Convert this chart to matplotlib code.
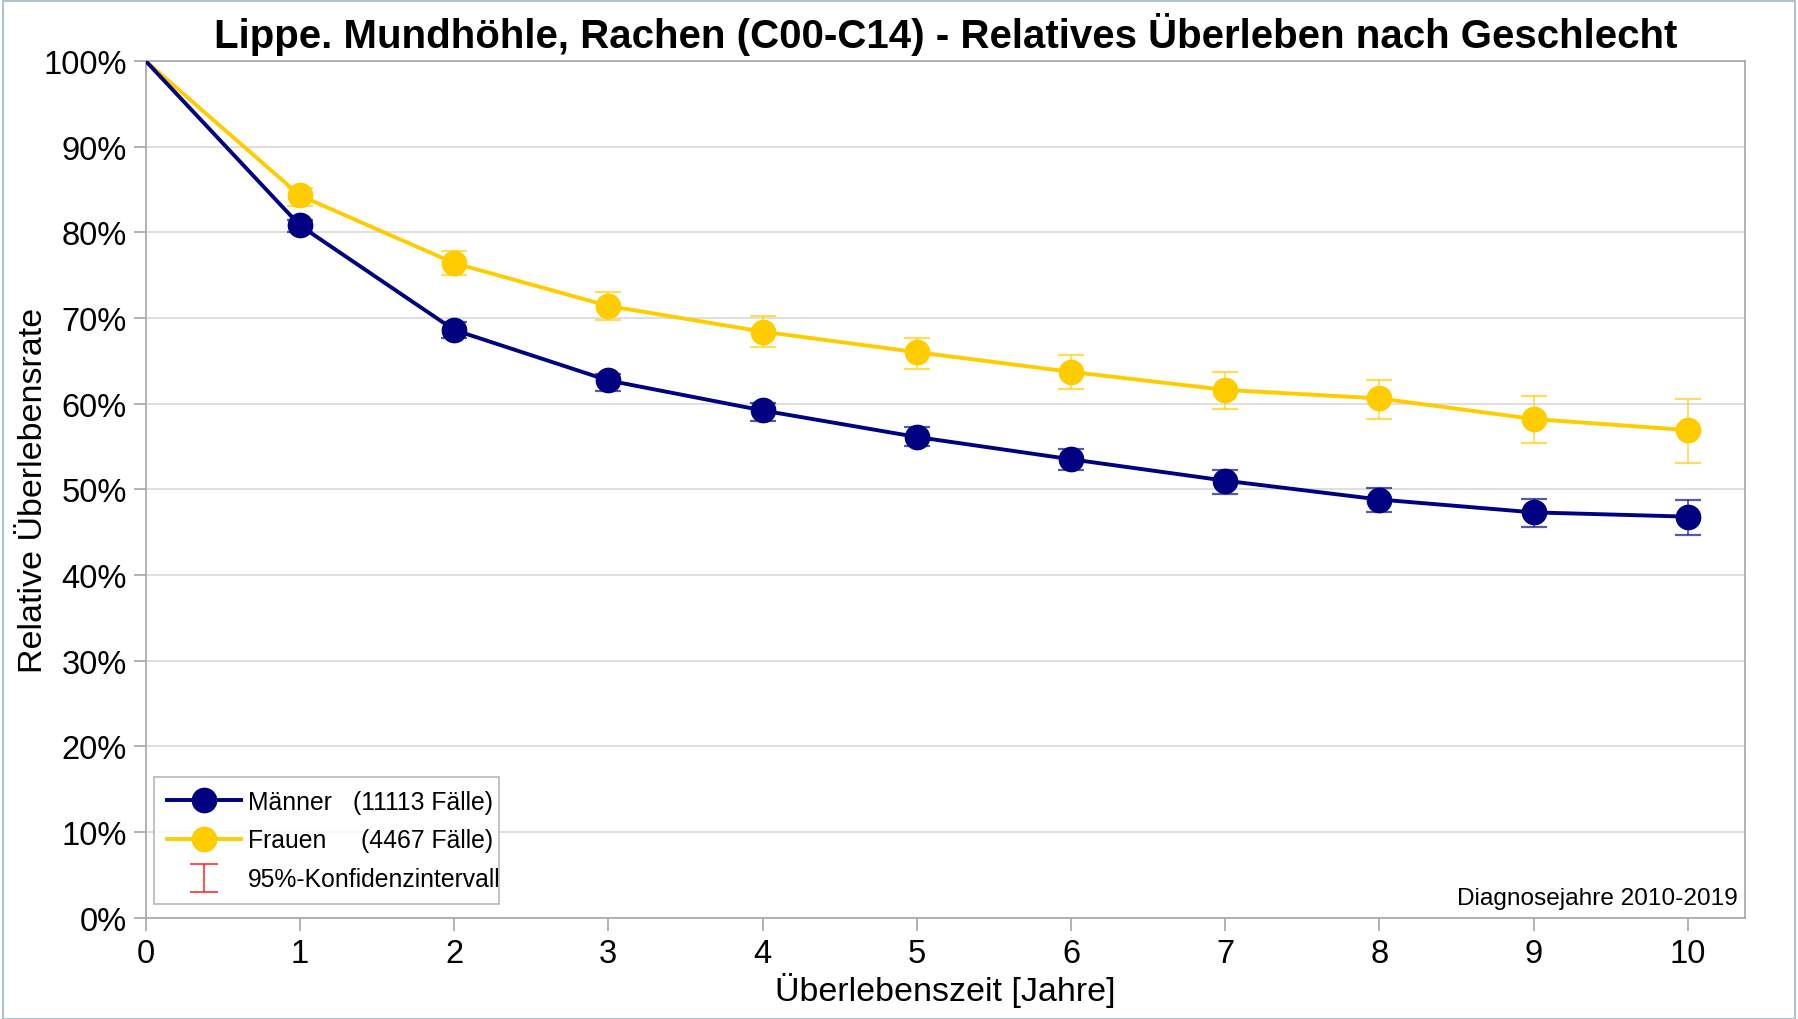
import matplotlib
matplotlib.use("Agg")
import matplotlib.pyplot as plt
from matplotlib.path import Path
from matplotlib.lines import Line2D
from matplotlib.patches import Rectangle
import numpy as np

plt.rcParams['font.family'] = ['Liberation Sans', 'DejaVu Sans']

years = [0, 1, 2, 3, 4, 5, 6, 7, 8, 9, 10]
maenner = [100, 80.8, 68.6, 62.7, 59.2, 56.1, 53.5, 51.0, 48.8, 47.3, 46.8]
maenner_lo = [100, 80.0, 67.6, 61.5, 58.0, 55.0, 52.2, 49.5, 47.3, 45.6, 44.7]
maenner_hi = [100, 81.4, 69.5, 63.5, 60.1, 57.3, 54.7, 52.2, 50.2, 48.9, 48.8]
frauen = [100, 84.3, 76.4, 71.4, 68.4, 66.0, 63.7, 61.6, 60.6, 58.2, 56.9]
frauen_lo = [100, 83.1, 75.0, 69.8, 66.6, 64.0, 61.7, 59.4, 58.2, 55.4, 53.1]
frauen_hi = [100, 85.2, 77.8, 73.0, 70.2, 67.7, 65.7, 63.7, 62.8, 60.9, 60.5]
labels = ["Männer", "Frauen", "95%-Konfidenzintervall"]
counts = ["(11113 Fälle)", "(4467 Fälle)"]
yticks = list(range(0, 101, 10))
ytick_labels = [f"{v}%" for v in yticks]

navy = "#000080"
gold = "#FFCC00"
gray = "#a6a6a6"
LEGFS = 17.8

fig = plt.figure(figsize=(17.98, 10.20), dpi=100)
ax = fig.add_axes([145.6/1798, 1 - 918.6/1020, 1599.4/1798, 856.7/1020])

def draw(vals, lo, hi, color, z):
    x = np.array(years[1:])
    v = np.array(vals[1:])
    yerr = np.vstack([v - np.array(lo[1:]), np.array(hi[1:]) - v])
    ax.errorbar(x, v, yerr=yerr, fmt='none', ecolor=color, alpha=0.65,
                elinewidth=1.3, capsize=9.7, capthick=1.6, zorder=z)
    ax.plot(years, vals, color=color, lw=2.8, zorder=z + 1)
    ax.plot(years[1:], vals[1:], 'o', color=color, ms=17.5, zorder=z + 2)

draw(frauen, frauen_lo, frauen_hi, gold, 3)
draw(maenner, maenner_lo, maenner_hi, navy, 6)

ax.set_xlim(0, 10.37)
ax.set_ylim(0, 100)
ax.set_xticks(years)
ax.set_xticklabels([str(y) for y in years])
ax.set_yticks(yticks)
ax.set_yticklabels(ytick_labels)
ax.tick_params(axis='both', labelsize=23.5, color=gray, length=9, width=1.2)
ax.tick_params(axis='y', pad=4.5)
ax.tick_params(axis='x', pad=6)
ax.grid(axis='y', color='#d9d9d9', lw=1.2, zorder=0)
ax.set_axisbelow(True)
for s in ax.spines.values():
    s.set_color(gray)
    s.set_linewidth(1.2)

ax.set_xlabel("Überlebenszeit [Jahre]", fontsize=24.5, labelpad=2)
ax.set_ylabel("Relative Überlebensrate", fontsize=24.5, labelpad=-4)
ax.set_title("Lippe. Mundhöhle, Rachen (C00-C14) - Relatives Überleben nach Geschlecht",
             fontsize=29, fontweight='bold', pad=10)

# legend
ci_path = Path([(-1, 1), (1, 1), (0, 1), (0, -1), (-1, -1), (1, -1)],
               [Path.MOVETO, Path.LINETO, Path.MOVETO, Path.LINETO, Path.MOVETO, Path.LINETO])
h_m = Line2D([], [], color=navy, lw=2.8, marker='o', ms=17.5)
h_f = Line2D([], [], color=gold, lw=2.8, marker='o', ms=17.5)
h_ci = Line2D([], [], ls='none', marker=ci_path, ms=19.5, mfc='none', mec='#ff3030', mew=1.2)
x0, x1 = 0.00544, 0.2211
y1 = 0.1638
leg = ax.legend([h_m, h_f, h_ci], labels, loc='upper left',
                bbox_to_anchor=(x0, y1, x1 - x0, 0), mode='expand',
                fontsize=LEGFS, frameon=True, fancybox=False, handlelength=3.0,
                handletextpad=0.3, borderaxespad=0,
                labelspacing=0.6, borderpad=0.5)
leg.get_frame().set_edgecolor(gray)
leg.get_frame().set_linewidth(1.2)
leg.set_zorder(20)

fig.canvas.draw()
renderer = fig.canvas.get_renderer()
xr = ax.transAxes.transform(((493 - 145.6) / 1599.4, 0))[0]
for txt, c in zip(leg.get_texts()[:2], counts):
    bb = txt.get_window_extent(renderer)
    fig.text(xr / fig.bbox.width, (bb.y0 + bb.y1) / 2 / fig.bbox.height, c,
             ha='right', va='center', fontsize=LEGFS, zorder=21)

ax.text(0.9956, (918.6 - 905) / 856.7, "Diagnosejahre 2010-2019", transform=ax.transAxes,
        ha='right', va='baseline', fontsize=17.6, zorder=21)

fig.patches.append(Rectangle((0.0015, 0.0), 0.997, 0.998, transform=fig.transFigure,
                             fill=False, edgecolor='#b4c0cc', lw=1.5))

fig.savefig("out.png", dpi=100)
